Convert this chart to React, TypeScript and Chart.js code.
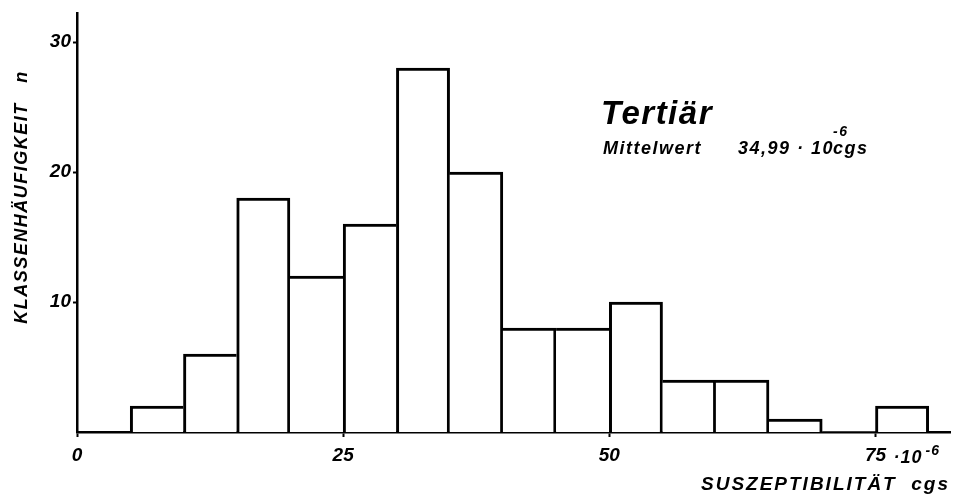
import React, { useEffect, useRef } from "react";
import { Chart, registerables } from "chart.js";

Chart.register(...registerables);

// Histogram data: class start (×10^-6 cgs) and class frequency n
const binStarts = [5, 10, 15, 20, 25, 30, 35, 40, 45, 50, 55, 60, 65, 70, 75];
const counts = [2, 6, 18, 12, 16, 28, 20, 8, 8, 10, 4, 4, 1, 0, 2];
const binWidth = 5;
const xTickValues = [0, 25, 50, 75];
const yTickValues = [10, 20, 30];
const xMin = 0;
const xMax = 82;
const yMin = 0;
const yMax = 32.2;

const FONT = "'Liberation Sans', 'DejaVu Sans', sans-serif";
const INK = "#000000";

const textPlugin = {
  id: "histText",
  afterDraw(chart: any) {
    const ctx = chart.ctx as CanvasRenderingContext2D;
    const xs = chart.scales.x;
    const ca = chart.chartArea;
    ctx.save();
    ctx.fillStyle = INK;
    ctx.textBaseline = "alphabetic";

    // exponent after the last x tick
    const p75 = xs.getPixelForValue(75);
    ctx.font = `italic bold 18px ${FONT}`;
    ctx.textAlign = "left";
    (ctx as any).letterSpacing = "1px";
    ctx.fillText("·10", p75 + 18, 463);
    ctx.font = `italic bold 14px ${FONT}`;
    ctx.fillText("-6", p75 + 50, 455);

    // x-axis title
    ctx.font = `italic bold 19px ${FONT}`;
    ctx.textAlign = "right";
    (ctx as any).letterSpacing = "2px";
    ctx.fillText("SUSZEPTIBILITÄT  cgs", ca.right, 490);

    // y-axis title
    ctx.save();
    ctx.translate(27, 197);
    ctx.rotate(-Math.PI / 2);
    ctx.textAlign = "center";
    ctx.font = `italic bold 18px ${FONT}`;
    (ctx as any).letterSpacing = "1.5px";
    ctx.fillText("KLASSENHÄUFIGKEIT   n", 0, 0);
    ctx.restore();

    // annotation
    ctx.textAlign = "left";
    ctx.font = `italic bold 33px ${FONT}`;
    (ctx as any).letterSpacing = "1.5px";
    ctx.fillText("Tertiär", 601, 124);
    ctx.font = `italic bold 18px ${FONT}`;
    (ctx as any).letterSpacing = "1.5px";
    ctx.fillText("Mittelwert", 603, 154);
    ctx.fillText("34,99 · 10", 738, 154);
    ctx.fillText("cgs", 833, 154);
    ctx.font = `italic bold 14px ${FONT}`;
    ctx.fillText("-6", 833, 136);
    ctx.restore();
  },
};

export default function App() {
  const canvasRef = useRef<HTMLCanvasElement | null>(null);

  useEffect(() => {
    document.body.style.margin = "0";
    document.body.style.background = "#ffffff";
    const canvas = canvasRef.current;
    if (!canvas) return;

    const data = binStarts.map((s, i) => ({ x: s + binWidth / 2, y: counts[i] }));

    const borderFor = (ctx: any) => {
      const i = ctx.dataIndex;
      const v = counts[i];
      if (!v) return { top: 0, left: 0, right: 0, bottom: 0 };
      const prev = i > 0 ? counts[i - 1] : 0;
      const next = i < counts.length - 1 ? counts[i + 1] : 0;
      return {
        top: 3,
        bottom: 0,
        left: v > prev ? 3 : 0,
        right: v >= next ? 3 : 0,
      };
    };

    const chart = new Chart(canvas, {
      type: "bar",
      data: {
        datasets: [
          {
            data: data as any,
            backgroundColor: "#ffffff",
            borderColor: INK,
            borderWidth: borderFor as any,
            borderSkipped: false as any,
            barPercentage: 1,
            categoryPercentage: 1,
          },
        ],
      },
      plugins: [textPlugin],
      options: {
        animation: false,
        responsive: false,
        maintainAspectRatio: false,
        layout: { padding: { top: 8, right: 6, left: 0, bottom: 0 } },
        plugins: {
          legend: { display: false },
          tooltip: { enabled: false },
          title: { display: false },
        },
        scales: {
          x: {
            type: "linear",
            min: xMin,
            max: xMax,
            offset: false,
            afterBuildTicks: (scale: any) => {
              scale.ticks = xTickValues.map((v) => ({ value: v }));
            },
            afterFit: (scale: any) => {
              scale.height = 63;
            },
            grid: {
              drawOnChartArea: false,
              drawTicks: true,
              tickLength: 5,
              tickColor: INK,
              tickWidth: 2,
              offset: false,
            },
            border: { display: true, color: INK, width: 2.5 },
            ticks: {
              color: INK,
              padding: 7,
              maxRotation: 0,
              autoSkip: false,
              font: { family: FONT, size: 19, style: "italic", weight: "bold" },
              callback: (v: any) => String(v),
            },
          },
          y: {
            type: "linear",
            min: yMin,
            max: yMax,
            afterBuildTicks: (scale: any) => {
              scale.ticks = yTickValues.map((v) => ({ value: v }));
            },
            afterFit: (scale: any) => {
              scale.width = 77;
            },
            grid: {
              drawOnChartArea: false,
              drawTicks: true,
              tickLength: 4,
              tickColor: INK,
              tickWidth: 2,
            },
            border: { display: true, color: INK, width: 2.5 },
            ticks: {
              color: INK,
              padding: 2,
              autoSkip: false,
              font: { family: FONT, size: 19, style: "italic", weight: "bold" },
              callback: (v: any) => String(v),
            },
          },
        },
      },
    });

    return () => chart.destroy();
  }, []);

  return (
    <div style={{ width: 956, height: 495, background: "#ffffff" }}>
      <canvas ref={canvasRef} width={956} height={495} style={{ display: "block" }} />
    </div>
  );
}
